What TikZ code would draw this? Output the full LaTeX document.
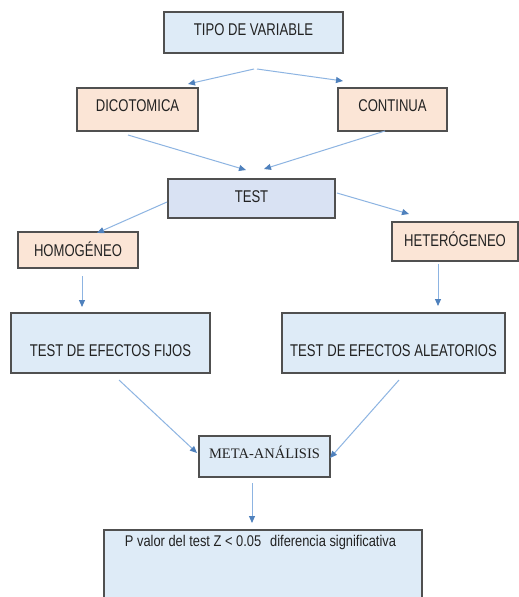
\documentclass[tikz,border=0pt]{standalone}
\usepackage{fontspec}
\setmainfont{Liberation Sans}[FakeStretch=0.77]
\newfontfamily\pfont{Liberation Sans}[FakeStretch=0.83]
\newfontfamily\metafont{Liberation Serif}
\usetikzlibrary{arrows.meta}
\definecolor{boxblue}{HTML}{DEEBF7}
\definecolor{testblue}{HTML}{D9E2F3}
\definecolor{peach}{HTML}{FBE5D6}
\definecolor{edge}{HTML}{505050}
\definecolor{arrowline}{HTML}{8DB4E2}
\definecolor{arrowtip}{HTML}{4F81BD}
\definecolor{txt}{HTML}{222222}
\tikzset{
  box/.style={draw=edge, line width=1.1pt, inner sep=0pt, align=center, text=txt,
    font=\fontsize{17}{19}\selectfont, text depth=0pt},
  bluebox/.style={box, fill=boxblue},
  peachbox/.style={box, fill=peach},
  conn/.style={draw=arrowline, line width=1pt,
    -{Triangle[length=7pt,width=6pt,fill=arrowtip,color=arrowtip]}},
}
\begin{document}
\begin{tikzpicture}[x=1pt,y=-1pt]
\clip (0,0) rectangle (519,597);
\fill[white] (0,0) rectangle (519,597);
% nodes
\node[bluebox, minimum width=179pt, minimum height=41pt, text height=6.2pt] (tipo) at (253.5,32.5) {TIPO DE VARIABLE};
\node[peachbox, minimum width=121pt, minimum height=43pt, text height=4.2pt] (dico) at (137.5,109.5) {DICOTOMICA};
\node[peachbox, minimum width=109pt, minimum height=43pt, text height=4.2pt] (cont) at (392.5,109.5) {CONTINUA};
\node[box, fill=testblue, minimum width=167pt, minimum height=39pt, text height=8.2pt] (test) at (251.5,198.5) {TEST};
\node[peachbox, minimum width=120pt, minimum height=36pt, text height=12.2pt] (homo) at (78,250) {HOMOGÉNEO};
\node[peachbox, minimum width=126pt, minimum height=39pt, text height=9.2pt] (hetero) at (455,241.5) {HETERÓGENEO};
\node[bluebox, minimum width=199pt, minimum height=60pt, text height=26.2pt] (fijos) at (110.5,343) {TEST DE EFECTOS FIJOS};
\node[bluebox, minimum width=223pt, minimum height=60pt, text height=26.2pt] (aleat) at (393.5,343) {TEST DE EFECTOS ALEATORIOS};
\node[bluebox, minimum width=131pt, minimum height=41pt, text height=3pt, font=\metafont\fontsize{14.5}{16}\selectfont] (meta) at (264.5,456.5) {META-ANÁLISIS};
\node[bluebox, minimum width=318pt, minimum height=75pt] (pbox) at (263,567.5) {};
\node[text=txt, inner sep=0pt, font=\pfont\fontsize{15.5}{17}\selectfont] (ptext) at (260.5,542.5) {P valor del test Z < 0.05\hspace{9pt}diferencia significativa};
% connector end points
\coordinate (a1s) at (254,69);  \coordinate (a1e) at (188,84);
\coordinate (a2s) at (257,69);  \coordinate (a2e) at (343,81);
\coordinate (a3s) at (128,135); \coordinate (a3e) at (246,170);
\coordinate (a4s) at (385,131); \coordinate (a4e) at (264,169);
\coordinate (a5s) at (167,202); \coordinate (a5e) at (97,233);
\coordinate (a6s) at (337,193); \coordinate (a6e) at (409,214);
\coordinate (a7s) at (82,276);  \coordinate (a7e) at (82,307);
\coordinate (a8s) at (438,264); \coordinate (a8e) at (438,306);
\coordinate (a9s) at (119,380); \coordinate (a9e) at (197,453);
\coordinate (a10s) at (399,380); \coordinate (a10e) at (330,458);
\coordinate (a11s) at (252,483); \coordinate (a11e) at (252,523);
% connectors
\draw[conn] (a1s) -- (a1e);
\draw[conn] (a2s) -- (a2e);
\draw[conn] (a3s) -- (a3e);
\draw[conn] (a4s) -- (a4e);
\draw[conn] (a5s) -- (a5e);
\draw[conn] (a6s) -- (a6e);
\draw[conn] (a7s) -- (a7e);
\draw[conn] (a8s) -- (a8e);
\draw[conn] (a9s) -- (a9e);
\draw[conn] (a10s) -- (a10e);
\draw[conn] (a11s) -- (a11e);
\end{tikzpicture}
\end{document}
